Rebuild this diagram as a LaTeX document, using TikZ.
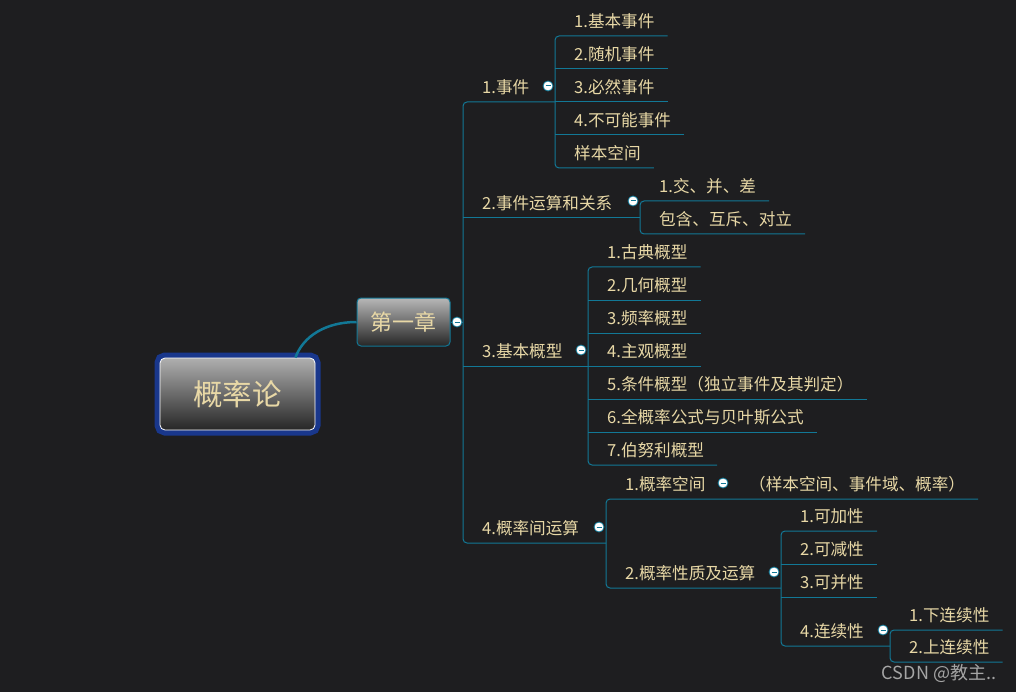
\documentclass[tikz,border=0pt]{standalone}
\usepackage{fontspec}
\setmainfont{Noto Sans CJK SC}
\definecolor{bgdark}{RGB}{30, 30, 32}
\definecolor{linkteal}{RGB}{18, 120, 150}
\definecolor{topictext}{RGB}{232, 216, 166}
\definecolor{rootblue}{RGB}{25, 55, 140}
\definecolor{boxlight}{RGB}{175, 175, 175}
\definecolor{boxdark}{RGB}{38, 38, 38}
\definecolor{markgray}{RGB}{165, 165, 165}
\usepackage{tikz}
\usetikzlibrary{calc}

\begin{document}
\begin{tikzpicture}[x=1pt, y=-1pt,
    topic/.style={anchor=south west, inner xsep=13pt, inner ysep=6pt,
        text height=14pt, text depth=2pt, text=topictext,
        font=\fontsize{16.6}{18}\selectfont, execute at begin node=\hspace*{6pt}},
    link/.style={draw=linkteal, line width=1pt},
    foldmark/.style={circle, fill=white, draw=linkteal, line width=0.8pt,
        minimum size=10pt, inner sep=0pt,
        path picture={\draw[linkteal, line width=1pt]
            ([xshift=-2.5pt]path picture bounding box.center) --
            ([xshift=2.5pt]path picture bounding box.center);}}]
    \useasboundingbox (0, 0) rectangle (1016, 692);
    \fill[bgdark] (0, 0) rectangle (1016, 692);

    % central topics
    \node[minimum width=155, minimum height=72, rounded corners=5pt,
        preaction={draw=rootblue, line width=11pt},
        draw=white, line width=0.8pt, top color=boxlight, bottom color=boxdark,
        text=topictext, font=\fontsize{29.5}{31}\selectfont] (root) at (237.5, 394) {概率论};
    \node[minimum width=93, minimum height=48, rounded corners=4pt,
        draw=linkteal, line width=1pt, top color=boxlight!90, bottom color=boxdark,
        text=topictext, font=\fontsize{22}{24}\selectfont] (ch1) at (403.5, 322) {第一章};

    % level 1
    \node[topic] (e) at (463, 102) {1.事件};
    \node[topic] (op) at (463, 218) {2.事件运算和关系};
    \node[topic] (mdl) at (463, 366) {3.基本概型};
    \node[topic] (pr) at (463, 543) {4.概率间运算};

    % 1.事件
    \node[topic] (e1) at (555, 36) {1.基本事件};
    \node[topic] (e2) at (555, 69) {2.随机事件};
    \node[topic] (e3) at (555, 102) {3.必然事件};
    \node[topic] (e4) at (555, 135) {4.不可能事件};
    \node[topic] (e5) at (555, 168) {样本空间};

    % 2.事件运算和关系
    \node[topic] (op1) at (640, 201) {1.交、并、差};
    \node[topic] (op2) at (640, 234) {包含、互斥、对立};

    % 3.基本概型
    \node[topic] (m1) at (588, 267) {1.古典概型};
    \node[topic] (m2) at (588, 300) {2.几何概型};
    \node[topic] (m3) at (588, 333) {3.频率概型};
    \node[topic] (m4) at (588, 366) {4.主观概型};
    \node[topic] (m5) at (588, 399) {5.条件概型（独立事件及其判定）};
    \node[topic] (m6) at (588, 432) {6.全概率公式与贝叶斯公式};
    \node[topic] (m7) at (588, 465) {7.伯努利概型};

    % 4.概率间运算
    \node[topic] (sp) at (606, 499) {1.概率空间};
    \node[topic] (spx) at (730, 499) {（样本空间、事件域、概率）};
    \node[topic] (pp) at (606, 588) {2.概率性质及运算};
    \node[topic] (pp1) at (781, 531) {1.可加性};
    \node[topic] (pp2) at (781, 564) {2.可减性};
    \node[topic] (pp3) at (781, 597) {3.可并性};
    \node[topic] (pp4) at (781, 646) {4.连续性};
    \node[topic] (ct1) at (890, 630) {1.下连续性};
    \node[topic] (ct2) at (890, 662) {2.上连续性};

    % connectors
    \draw[linkteal, line width=2.5pt] ([xshift=-20pt]root.north east)
        .. controls +(8, -22) and +(-30, 0) .. (ch1.west);
    \draw[link] (ch1.east) -- (e.south west |- ch1.east);
    \draw[link, rounded corners=4pt] (e1.south west |- e.south) -- (e.south west)
        -- (pr.south west) -- (sp.south west |- pr.south);
    \draw[link] (op.south west) -- (op1.south west |- op.south);
    \draw[link] (mdl.south west) -- (m1.south west |- mdl.south);

    \draw[link, rounded corners=4pt] (e1.south east) -- (e1.south west)
        -- (e5.south west) -- (e5.south east);
    \foreach \n in {e2, e3, e4}
        \draw[link] (\n.south west) -- (\n.south east);

    \draw[link, rounded corners=4pt] (op1.south east) -- (op1.south west)
        -- (op2.south west) -- (op2.south east);

    \draw[link, rounded corners=4pt] (m1.south east) -- (m1.south west)
        -- (m7.south west) -- (m7.south east);
    \foreach \n in {m2, m3, m4, m5, m6}
        \draw[link] (\n.south west) -- (\n.south east);

    \draw[link, rounded corners=4pt] (spx.south east) -- (sp.south west)
        -- (pp.south west) -- (pp1.south west |- pp.south);
    \draw[link, rounded corners=4pt] (pp1.south east) -- (pp1.south west)
        -- (pp4.south west) -- (ct1.south west |- pp4.south);
    \foreach \n in {pp2, pp3}
        \draw[link] (\n.south west) -- (\n.south east);
    \draw[link, rounded corners=4pt] (ct1.south east) -- (ct1.south west)
        -- (ct2.south west) -- (ct2.south east);

    % collapse marks
    \node[foldmark] (ch1f) at (457, 322) {};
    \node[foldmark] (ef) at (548, 86) {};
    \node[foldmark] (opf) at (633, 201) {};
    \node[foldmark] (mdlf) at (581, 350) {};
    \node[foldmark] (prf) at (599, 527) {};
    \node[foldmark] (spf) at (723, 483) {};
    \node[foldmark] (ppf) at (774, 572) {};
    \node[foldmark] (pp4f) at (883, 630) {};

    \node[text=markgray, font=\fontsize{18}{20}\selectfont] (mark) at (939, 673) {CSDN @教主..};
\end{tikzpicture}
\end{document}
